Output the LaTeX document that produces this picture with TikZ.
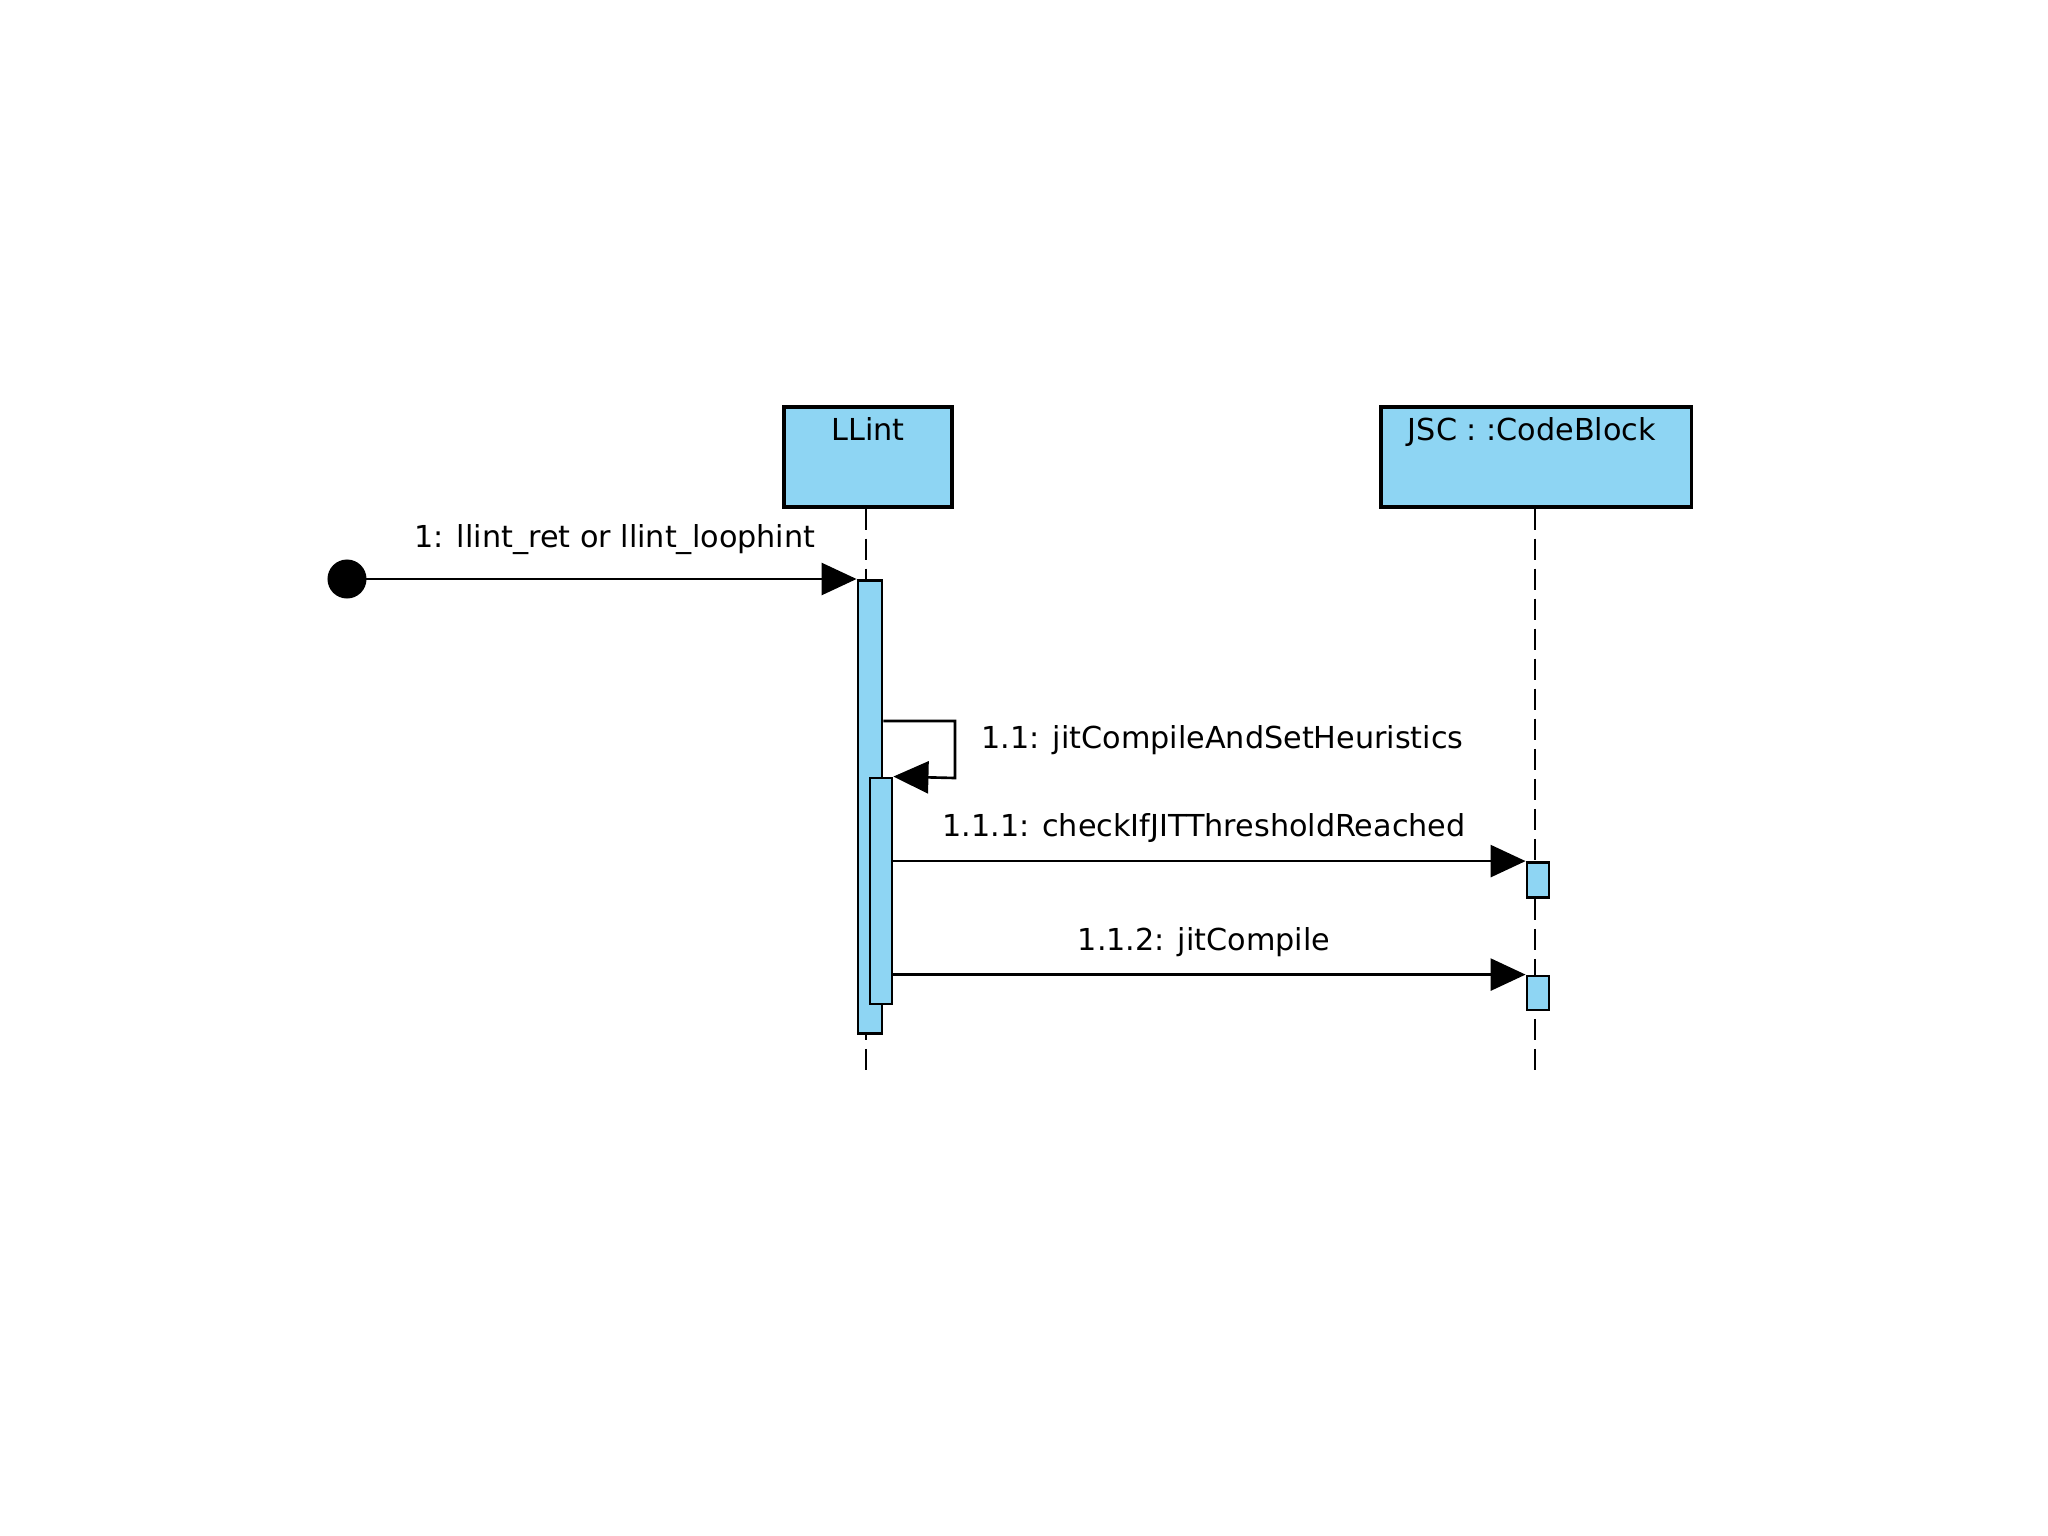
\documentclass[tikz,border=0pt]{standalone}
\usepackage{fontspec}
\setmainfont{DejaVu Sans}
\usetikzlibrary{arrows.meta,calc}
\definecolor{actblue}{RGB}{142,213,243}
\begin{document}
\begin{tikzpicture}[x=0.01cm,y=-0.01cm,
  objbox/.style={draw=black,line width=0.9pt,fill=actblue,inner sep=0pt},
  actbar/.style={draw=black,line width=0.8pt,fill=actblue,inner sep=0pt,minimum width=0.22cm},
  lifeline/.style={line width=0.6pt,dash pattern=on 0.21cm off 0.09cm},
  msg/.style={line width=0.75pt,-{Triangle[length=3.5mm,width=3.2mm]}},
  lbl/.style={font=\fontsize{8.6}{10}\selectfont,inner sep=0pt}]
\useasboundingbox (0,0) rectangle (2048,1536);
\fill[white] (0,0) rectangle (2048,1536);
% objects
\node[objbox,minimum width=1.68cm,minimum height=1cm] (llint) at (868,457) {};
\node[lbl,anchor=north] (llintlbl) at ($(llint.north)+(0,11)$) {LLint};
\node[objbox,minimum width=3.10cm,minimum height=1cm] (jsc) at (1536,457) {};
\node[lbl,anchor=north] (jsclbl) at ($(jsc.north)+(-4,11)$) {JSC : :CodeBlock};
% lifelines
\coordinate (llintend) at (866,1074);
\coordinate (jscend) at (1535,1074);
\draw[lifeline] (llint.south -| llintend) -- (llintend);
\draw[lifeline] (jsc.south -| jscend) -- (jscend);
% activation bars
\node[actbar,minimum width=0.24cm,minimum height=4.53cm] (act1) at (870,807) {};
\node[actbar,minimum height=2.26cm] (act2) at (881,891) {};
\node[actbar,minimum height=0.35cm] (jsc1) at (1538,880) {};
\node[actbar,minimum height=0.34cm] (jsc2) at (1538,993) {};
% start
\node[circle,fill=black,minimum size=0.39cm,inner sep=0pt] (start) at (347,579) {};
% messages
\draw[msg] (start.center) -- (start.center -| act1.west);
\node[lbl] (m1) at (615,540) {1: llint\_ret or llint\_loophint};
\coordinate (loopA) at (955,721);
\coordinate (loopB) at (955,778);
\draw[msg] (act1.east |- loopA) -- (loopA) -- (loopB) -- (act2.north east);
\node[lbl,anchor=west] (m11) at (981,740) {1.1: jitCompileAndSetHeuristics};
\draw[msg] (act2.east |- jsc1.north) -- (jsc1.north west);
\node[lbl] (m111) at (1204,828) {1.1.1: checkIfJITThresholdReached};
\draw[msg] (act2.east |- jsc2.north) -- (jsc2.north west);
\node[lbl] (m112) at (1204,942) {1.1.2: jitCompile};
\end{tikzpicture}
\end{document}
